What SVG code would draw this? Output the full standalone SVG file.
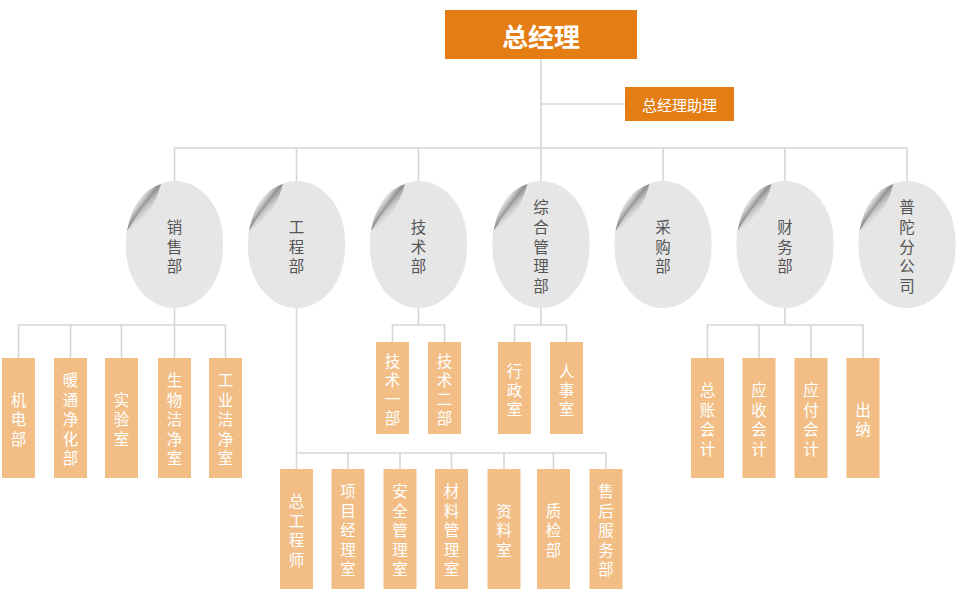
<svg xmlns="http://www.w3.org/2000/svg" width="957" height="605" viewBox="0 0 957 605">
<style>
.ln{stroke:#d6d6d6;stroke-width:1.6;fill:none}
.top{fill:#e47e14}
.box{fill:#f2be86}
.t{font-family:"Noto Sans CJK SC","Noto Sans",sans-serif;text-anchor:middle;dominant-baseline:central}
.ot{font-size:15.5px;fill:#555}
.bt{font-size:15.5px;fill:#fff}
</style>
<defs>
<clipPath id="cut"><polygon points="38.6,-2 100,-2 100,130 -2,130 -2,54.1"/></clipPath>
<linearGradient id="shG" gradientUnits="userSpaceOnUse" x1="18" y1="26.5" x2="9" y2="20">
<stop offset="0" stop-color="#444" stop-opacity="0.7"/>
<stop offset="1" stop-color="#888" stop-opacity="0"/>
</linearGradient>
<linearGradient id="flG" gradientUnits="userSpaceOnUse" x1="14" y1="22" x2="26" y2="34">
<stop offset="0" stop-color="#8a8a8a"/>
<stop offset="0.5" stop-color="#cdcdcd"/>
<stop offset="1" stop-color="#fafafa"/>
</linearGradient>
<g id="oval">
<rect x="0" y="0" width="97" height="127" rx="48.5" ry="60" fill="#e6e6e6" clip-path="url(#cut)"/>
<path d="M1,50 L35,3 Q8,11 1,50 Z" fill="url(#shG)"/>
<path d="M1,50 Q26,38 35,3 Q17,23 1,50 Z" fill="url(#flG)"/>
</g>
</defs>

<g id="connectors">
<path class="ln" d="M541,59 V181 M541,104 H625 M174.5,148 H907 M174.5,148 V181 M296.5,148 V181 M418.5,148 V181 M663,148 V181 M785,148 V181 M907,148 V181"/>
<path class="ln" d="M174.5,308 V325 M18.5,358 V325 H225.5 V358 M70.5,325 V358 M121.5,325 V358 M174.5,325 V358"/>
<path class="ln" d="M296.5,308 V469 M296.5,453 H606 V469 M348,453 V469 M400,453 V469 M451.5,453 V469 M504,453 V469 M553.5,453 V469"/>
<path class="ln" d="M418.5,308 V325 M392.5,342 V325 H444.5 V342"/>
<path class="ln" d="M541,308 V325 M514.5,342 V325 H566.5 V342"/>
<path class="ln" d="M785,308 V325 M707.5,358 V325 H863 V358 M759,325 V358 M811,325 V358"/>
</g>

<g id="gm">
<rect class="top" x="445" y="10" width="192" height="49"/>
<text class="t" x="541" y="35" font-size="26" font-weight="bold" fill="#fff">总经理</text>
</g>
<g id="assistant">
<rect class="top" x="625" y="87" width="109" height="34"/>
<text class="t" x="679.5" y="104" font-size="15" fill="#fff">总经理助理</text>
</g>

<g id="sales"><use href="#oval" x="126" y="181"/>
<text class="t ot"><tspan x="174.5" y="226">销</tspan><tspan x="174.5" y="245.5">售</tspan><tspan x="174.5" y="265">部</tspan></text></g>
<g id="eng"><use href="#oval" x="248" y="181"/>
<text class="t ot"><tspan x="296.5" y="226">工</tspan><tspan x="296.5" y="245.5">程</tspan><tspan x="296.5" y="265">部</tspan></text></g>
<g id="tech"><use href="#oval" x="370" y="181"/>
<text class="t ot"><tspan x="418.5" y="226">技</tspan><tspan x="418.5" y="245.5">术</tspan><tspan x="418.5" y="265">部</tspan></text></g>
<g id="admin"><use href="#oval" x="492.5" y="181"/>
<text class="t ot"><tspan x="541" y="206">综</tspan><tspan x="541" y="226">合</tspan><tspan x="541" y="245.5">管</tspan><tspan x="541" y="265">理</tspan><tspan x="541" y="284.5">部</tspan></text></g>
<g id="purchase"><use href="#oval" x="614.5" y="181"/>
<text class="t ot"><tspan x="663" y="226">采</tspan><tspan x="663" y="245.5">购</tspan><tspan x="663" y="265">部</tspan></text></g>
<g id="finance"><use href="#oval" x="736.5" y="181"/>
<text class="t ot"><tspan x="785" y="226">财</tspan><tspan x="785" y="245.5">务</tspan><tspan x="785" y="265">部</tspan></text></g>
<g id="putuo"><use href="#oval" x="858.5" y="181"/>
<text class="t ot"><tspan x="907" y="206">普</tspan><tspan x="907" y="226">陀</tspan><tspan x="907" y="245.5">分</tspan><tspan x="907" y="265">公</tspan><tspan x="907" y="284.5">司</tspan></text></g>

<g id="s1"><rect class="box" x="2" y="358" width="33" height="120"/>
<text class="t bt"><tspan x="18.5" y="398.5">机</tspan><tspan x="18.5" y="418">电</tspan><tspan x="18.5" y="437.5">部</tspan></text></g>
<g id="s2"><rect class="box" x="54" y="358" width="33" height="120"/>
<text class="t bt"><tspan x="70.5" y="379">暖</tspan><tspan x="70.5" y="398.5">通</tspan><tspan x="70.5" y="418">净</tspan><tspan x="70.5" y="437.5">化</tspan><tspan x="70.5" y="457">部</tspan></text></g>
<g id="s3"><rect class="box" x="105" y="358" width="33" height="120"/>
<text class="t bt"><tspan x="121.5" y="398.5">实</tspan><tspan x="121.5" y="418">验</tspan><tspan x="121.5" y="437.5">室</tspan></text></g>
<g id="s4"><rect class="box" x="158" y="358" width="33" height="120"/>
<text class="t bt"><tspan x="174.5" y="379">生</tspan><tspan x="174.5" y="398.5">物</tspan><tspan x="174.5" y="418">洁</tspan><tspan x="174.5" y="437.5">净</tspan><tspan x="174.5" y="457">室</tspan></text></g>
<g id="s5"><rect class="box" x="209" y="358" width="33" height="120"/>
<text class="t bt"><tspan x="225.5" y="379">工</tspan><tspan x="225.5" y="398.5">业</tspan><tspan x="225.5" y="418">洁</tspan><tspan x="225.5" y="437.5">净</tspan><tspan x="225.5" y="457">室</tspan></text></g>

<g id="t1"><rect class="box" x="376" y="342" width="33" height="92"/>
<text class="t bt"><tspan x="392.5" y="360">技</tspan><tspan x="392.5" y="379">术</tspan><tspan x="392.5" y="398">一</tspan><tspan x="392.5" y="417">部</tspan></text></g>
<g id="t2"><rect class="box" x="428" y="342" width="33" height="92"/>
<text class="t bt"><tspan x="444.5" y="360">技</tspan><tspan x="444.5" y="379">术</tspan><tspan x="444.5" y="398">二</tspan><tspan x="444.5" y="417">部</tspan></text></g>

<g id="a1"><rect class="box" x="498" y="342" width="33" height="92"/>
<text class="t bt"><tspan x="514.5" y="370">行</tspan><tspan x="514.5" y="389">政</tspan><tspan x="514.5" y="408">室</tspan></text></g>
<g id="a2"><rect class="box" x="550" y="342" width="33" height="92"/>
<text class="t bt"><tspan x="566.5" y="370">人</tspan><tspan x="566.5" y="389">事</tspan><tspan x="566.5" y="408">室</tspan></text></g>

<g id="f1"><rect class="box" x="691" y="358" width="33" height="120"/>
<text class="t bt"><tspan x="707.5" y="389">总</tspan><tspan x="707.5" y="408.5">账</tspan><tspan x="707.5" y="428">会</tspan><tspan x="707.5" y="447.5">计</tspan></text></g>
<g id="f2"><rect class="box" x="742.5" y="358" width="33" height="120"/>
<text class="t bt"><tspan x="759" y="389">应</tspan><tspan x="759" y="408.5">收</tspan><tspan x="759" y="428">会</tspan><tspan x="759" y="447.5">计</tspan></text></g>
<g id="f3"><rect class="box" x="794.5" y="358" width="33" height="120"/>
<text class="t bt"><tspan x="811" y="389">应</tspan><tspan x="811" y="408.5">付</tspan><tspan x="811" y="428">会</tspan><tspan x="811" y="447.5">计</tspan></text></g>
<g id="f4"><rect class="box" x="846.5" y="358" width="33" height="120"/>
<text class="t bt"><tspan x="863" y="408.5">出</tspan><tspan x="863" y="428">纳</tspan></text></g>

<g id="e1"><rect class="box" x="280" y="469" width="33" height="120"/>
<text class="t bt"><tspan x="296.5" y="500">总</tspan><tspan x="296.5" y="519.5">工</tspan><tspan x="296.5" y="539">程</tspan><tspan x="296.5" y="558.5">师</tspan></text></g>
<g id="e2"><rect class="box" x="331.5" y="469" width="33" height="120"/>
<text class="t bt"><tspan x="348" y="490">项</tspan><tspan x="348" y="509.5">目</tspan><tspan x="348" y="529">经</tspan><tspan x="348" y="548.5">理</tspan><tspan x="348" y="568">室</tspan></text></g>
<g id="e3"><rect class="box" x="383.5" y="469" width="33" height="120"/>
<text class="t bt"><tspan x="400" y="490">安</tspan><tspan x="400" y="509.5">全</tspan><tspan x="400" y="529">管</tspan><tspan x="400" y="548.5">理</tspan><tspan x="400" y="568">室</tspan></text></g>
<g id="e4"><rect class="box" x="435" y="469" width="33" height="120"/>
<text class="t bt"><tspan x="451.5" y="490">材</tspan><tspan x="451.5" y="509.5">料</tspan><tspan x="451.5" y="529">管</tspan><tspan x="451.5" y="548.5">理</tspan><tspan x="451.5" y="568">室</tspan></text></g>
<g id="e5"><rect class="box" x="487.5" y="469" width="33" height="120"/>
<text class="t bt"><tspan x="504" y="509.5">资</tspan><tspan x="504" y="529">料</tspan><tspan x="504" y="548.5">室</tspan></text></g>
<g id="e6"><rect class="box" x="537" y="469" width="33" height="120"/>
<text class="t bt"><tspan x="553.5" y="509.5">质</tspan><tspan x="553.5" y="529">检</tspan><tspan x="553.5" y="548.5">部</tspan></text></g>
<g id="e7"><rect class="box" x="589.5" y="469" width="33" height="120"/>
<text class="t bt"><tspan x="606" y="490">售</tspan><tspan x="606" y="509.5">后</tspan><tspan x="606" y="529">服</tspan><tspan x="606" y="548.5">务</tspan><tspan x="606" y="568">部</tspan></text></g>
</svg>
